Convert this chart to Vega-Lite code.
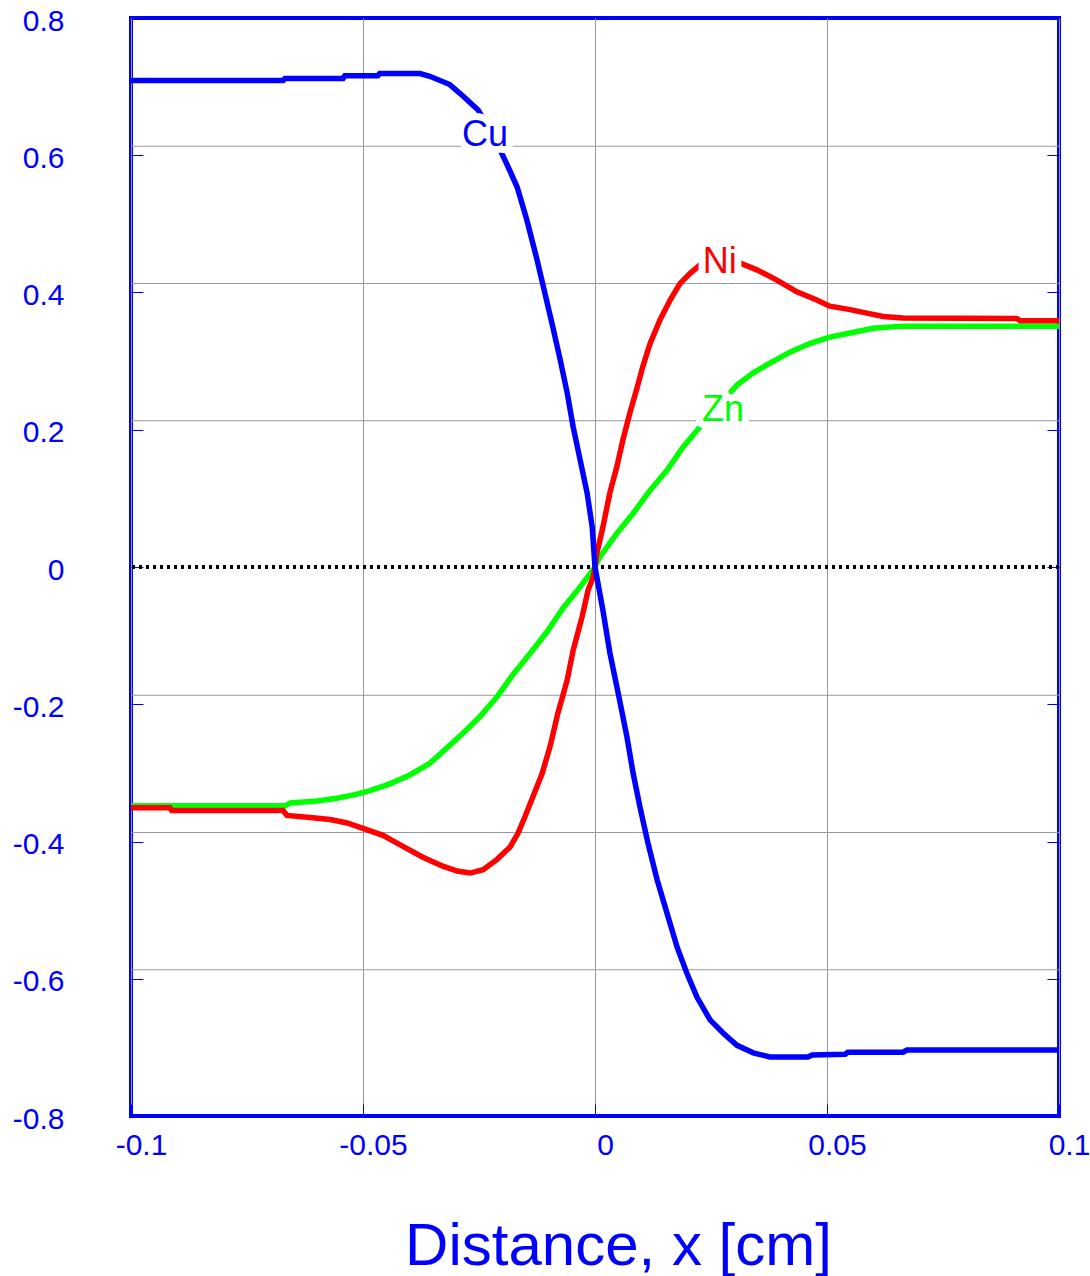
{
  "$schema": "https://vega.github.io/schema/vega-lite/v6.json",
  "width": 928,
  "height": 1098,
  "autosize": {"type": "none"},
  "padding": {"left": 131, "top": 18, "right": 31, "bottom": 160},
  "config": {
    "font": "Liberation Sans",
    "view": {"stroke": "#0000FF", "strokeWidth": 4},
    "axis": {
      "labelFont": "Liberation Sans",
      "titleFont": "Liberation Sans",
      "labelColor": "#0000FF",
      "titleColor": "#0000FF",
      "gridColor": "#999999",
      "gridWidth": 1,
      "gridOpacity": 1,
      "tickColor": "#0000FF",
      "tickWidth": 1,
      "domain": false,
      "labelFontSize": 30,
      "labelOverlap": false,
      "labelFlush": false,
      "labelBound": false
    }
  },
  "datasets": {
    "Cu": [
      {"x": -0.1, "y": 0.709}, {"x": -0.0672, "y": 0.709}, {"x": -0.0668, "y": 0.712}, {"x": -0.0543, "y": 0.712},
      {"x": -0.0539, "y": 0.716}, {"x": -0.0468, "y": 0.716}, {"x": -0.0464, "y": 0.719}, {"x": -0.0377, "y": 0.719},
      {"x": -0.0356, "y": 0.715}, {"x": -0.0313, "y": 0.703}, {"x": -0.0284, "y": 0.686}, {"x": -0.0252, "y": 0.666},
      {"x": -0.0222, "y": 0.632}, {"x": -0.0194, "y": 0.593}, {"x": -0.0168, "y": 0.554}, {"x": -0.0147, "y": 0.506},
      {"x": -0.0125, "y": 0.448}, {"x": -0.0108, "y": 0.399}, {"x": -0.0091, "y": 0.35}, {"x": -0.0075, "y": 0.302},
      {"x": -0.006, "y": 0.254}, {"x": -0.0047, "y": 0.204}, {"x": -0.0032, "y": 0.156}, {"x": -0.0017, "y": 0.108},
      {"x": -0.0006, "y": 0.058}, {"x": 0.0, "y": 0.0}, {"x": 0.0017, "y": -0.063}, {"x": 0.0032, "y": -0.125},
      {"x": 0.005, "y": -0.184}, {"x": 0.0069, "y": -0.248}, {"x": 0.0082, "y": -0.3}, {"x": 0.0097, "y": -0.35},
      {"x": 0.0114, "y": -0.402}, {"x": 0.0134, "y": -0.456}, {"x": 0.0155, "y": -0.504}, {"x": 0.0177, "y": -0.554},
      {"x": 0.0198, "y": -0.592}, {"x": 0.022, "y": -0.627}, {"x": 0.0248, "y": -0.66}, {"x": 0.0276, "y": -0.679},
      {"x": 0.0306, "y": -0.697}, {"x": 0.0341, "y": -0.708}, {"x": 0.0377, "y": -0.714}, {"x": 0.0459, "y": -0.714},
      {"x": 0.0468, "y": -0.711}, {"x": 0.0539, "y": -0.71}, {"x": 0.0545, "y": -0.707}, {"x": 0.0664, "y": -0.707},
      {"x": 0.0672, "y": -0.704}, {"x": 0.1, "y": -0.704}
    ],
    "Ni": [
      {"x": -0.1, "y": -0.351}, {"x": -0.0916, "y": -0.351}, {"x": -0.0912, "y": -0.355}, {"x": -0.0672, "y": -0.355},
      {"x": -0.0664, "y": -0.362}, {"x": -0.0614, "y": -0.365}, {"x": -0.0571, "y": -0.368}, {"x": -0.0534, "y": -0.373},
      {"x": -0.05, "y": -0.381}, {"x": -0.0457, "y": -0.391}, {"x": -0.0414, "y": -0.407}, {"x": -0.0371, "y": -0.423},
      {"x": -0.0328, "y": -0.436}, {"x": -0.0297, "y": -0.443}, {"x": -0.0269, "y": -0.446}, {"x": -0.0241, "y": -0.441},
      {"x": -0.0211, "y": -0.426}, {"x": -0.0183, "y": -0.408}, {"x": -0.0166, "y": -0.388}, {"x": -0.0151, "y": -0.364},
      {"x": -0.0134, "y": -0.335}, {"x": -0.0114, "y": -0.301}, {"x": -0.0097, "y": -0.262}, {"x": -0.008, "y": -0.213},
      {"x": -0.006, "y": -0.165}, {"x": -0.0047, "y": -0.121}, {"x": -0.0028, "y": -0.073}, {"x": -0.0015, "y": -0.034},
      {"x": -0.0004, "y": -0.015}, {"x": 0.0, "y": 0.0}, {"x": 0.0004, "y": 0.02}, {"x": 0.0017, "y": 0.058},
      {"x": 0.0032, "y": 0.108}, {"x": 0.0047, "y": 0.146}, {"x": 0.006, "y": 0.185}, {"x": 0.0075, "y": 0.224},
      {"x": 0.0091, "y": 0.262}, {"x": 0.0103, "y": 0.292}, {"x": 0.0119, "y": 0.326}, {"x": 0.014, "y": 0.36},
      {"x": 0.0162, "y": 0.389}, {"x": 0.0183, "y": 0.413}, {"x": 0.0205, "y": 0.428}, {"x": 0.0226, "y": 0.44},
      {"x": 0.0269, "y": 0.447}, {"x": 0.0312, "y": 0.443}, {"x": 0.0349, "y": 0.433}, {"x": 0.0392, "y": 0.418},
      {"x": 0.0435, "y": 0.401}, {"x": 0.0478, "y": 0.389}, {"x": 0.0506, "y": 0.38}, {"x": 0.055, "y": 0.375},
      {"x": 0.0586, "y": 0.37}, {"x": 0.0621, "y": 0.365}, {"x": 0.0664, "y": 0.363}, {"x": 0.0909, "y": 0.362},
      {"x": 0.0916, "y": 0.359}, {"x": 0.1, "y": 0.359}
    ],
    "Zn": [
      {"x": -0.1, "y": -0.348}, {"x": -0.0668, "y": -0.348}, {"x": -0.0657, "y": -0.344}, {"x": -0.0599, "y": -0.341},
      {"x": -0.0556, "y": -0.337}, {"x": -0.0513, "y": -0.331}, {"x": -0.0485, "y": -0.326}, {"x": -0.0442, "y": -0.316},
      {"x": -0.0399, "y": -0.303}, {"x": -0.0356, "y": -0.286}, {"x": -0.0328, "y": -0.269}, {"x": -0.0284, "y": -0.242},
      {"x": -0.0248, "y": -0.218}, {"x": -0.0211, "y": -0.189}, {"x": -0.0177, "y": -0.157}, {"x": -0.014, "y": -0.126},
      {"x": -0.0103, "y": -0.094}, {"x": -0.0069, "y": -0.06}, {"x": -0.0032, "y": -0.029}, {"x": -0.0004, "y": -0.004},
      {"x": 0.0011, "y": 0.015}, {"x": 0.0047, "y": 0.049}, {"x": 0.0082, "y": 0.078}, {"x": 0.0119, "y": 0.112},
      {"x": 0.0155, "y": 0.141}, {"x": 0.019, "y": 0.175}, {"x": 0.0226, "y": 0.204}, {"x": 0.0269, "y": 0.237},
      {"x": 0.0306, "y": 0.265}, {"x": 0.0341, "y": 0.283}, {"x": 0.0377, "y": 0.297}, {"x": 0.042, "y": 0.313},
      {"x": 0.0464, "y": 0.326}, {"x": 0.0506, "y": 0.335}, {"x": 0.055, "y": 0.341}, {"x": 0.0599, "y": 0.348},
      {"x": 0.0664, "y": 0.351}, {"x": 0.1, "y": 0.351}
    ],
    "labels": [
      {"x": -0.0237, "y": 0.63, "el": "Cu"},
      {"x": 0.0269, "y": 0.445, "el": "Ni"},
      {"x": 0.0276, "y": 0.229, "el": "Zn"}
    ],
    "grid": [{"v": 0.6}, {"v": 0.4}, {"v": 0.2}, {"v": -0.2}, {"v": -0.4}, {"v": -0.6}]
  },
  "resolve": {"axis": {"y": "independent"}},
  "layer": [
    {
      "data": {"name": "grid"},
      "mark": {"type": "rule", "color": "#999999", "strokeWidth": 1, "yOffset": -9},
      "encoding": {
        "y": {
          "field": "v", "type": "quantitative",
          "scale": {"domain": [-0.8, 0.8], "nice": false},
          "axis": {"orient": "right", "labels": false, "ticks": true, "tickSize": -12, "grid": false, "title": null,
                   "values": [-0.8, -0.6, -0.4, -0.2, 0, 0.2, 0.4, 0.6, 0.8]}
        }
      }
    },
    {
      "layer": [
        {
          "data": {"name": "grid"},
          "mark": {"type": "rule", "color": "black", "strokeDash": [3, 4], "strokeWidth": 3},
          "encoding": {"y": {"datum": 0, "type": "quantitative"}}
        },
        {
          "data": {"name": "Zn"},
          "mark": {"type": "line", "color": "#00FF00", "strokeWidth": 5.5},
          "encoding": {
            "x": {"field": "x", "type": "quantitative"},
            "y": {"field": "y", "type": "quantitative"}
          }
        },
        {
          "data": {"name": "Ni"},
          "mark": {"type": "line", "color": "#FF0000", "strokeWidth": 5.5},
          "encoding": {
            "x": {"field": "x", "type": "quantitative"},
            "y": {"field": "y", "type": "quantitative"}
          }
        },
        {
          "data": {"name": "Cu"},
          "mark": {"type": "line", "color": "#0000FF", "strokeWidth": 5.5},
          "encoding": {
            "x": {
              "field": "x", "type": "quantitative",
              "scale": {"domain": [-0.1, 0.1], "nice": false, "zero": false},
              "axis": {
                "values": [-0.1, -0.05, 0, 0.05, 0.1],
                "labelExpr": "'' + datum.value",
                "grid": true,
                "ticks": true,
                "tickSize": -12,
                "labelBaseline": "top",
                "labelAlign": "center",
                "labelPadding": 26,
                "labelOffset": 10,
                "title": "Distance, x [cm]",
                "titleFontSize": 60,
                "titleFontWeight": "normal",
                "titleX": 487,
                "titleY": 148,
                "titleAlign": "center",
                "titleBaseline": "alphabetic"
              }
            },
            "y": {
              "field": "y", "type": "quantitative",
              "scale": {"domain": [-0.8, 0.8], "nice": false, "zero": false},
              "axis": {
                "orient": "left",
                "values": [-0.8, -0.6, -0.4, -0.2, 0, 0.2, 0.4, 0.6, 0.8],
                "labelExpr": "'' + datum.value",
                "grid": false,
                "ticks": true,
                "tickSize": -12,
                "labelAlign": "right",
                "labelBaseline": "middle",
                "labelPadding": 79,
                "labelOffset": 3,
                "title": null
              }
            }
          }
        },
        {
          "data": {"name": "labels"},
          "mark": {"type": "text", "fontSize": 36, "font": "Liberation Sans", "align": "center", "baseline": "middle",
                   "color": "white", "stroke": "white", "strokeWidth": 14, "strokeJoin": "round"},
          "encoding": {
            "x": {"field": "x", "type": "quantitative"},
            "y": {"field": "y", "type": "quantitative"},
            "text": {"field": "el"}
          }
        },
        {
          "data": {"name": "labels"},
          "mark": {"type": "text", "fontSize": 36, "font": "Liberation Sans", "align": "center", "baseline": "middle"},
          "encoding": {
            "x": {"field": "x", "type": "quantitative"},
            "y": {"field": "y", "type": "quantitative"},
            "text": {"field": "el"},
            "color": {"field": "el", "type": "nominal",
                      "scale": {"domain": ["Cu", "Ni", "Zn"], "range": ["#0000FF", "#FF0000", "#00FF00"]},
                      "legend": null}
          }
        }
      ]
    }
  ]
}
